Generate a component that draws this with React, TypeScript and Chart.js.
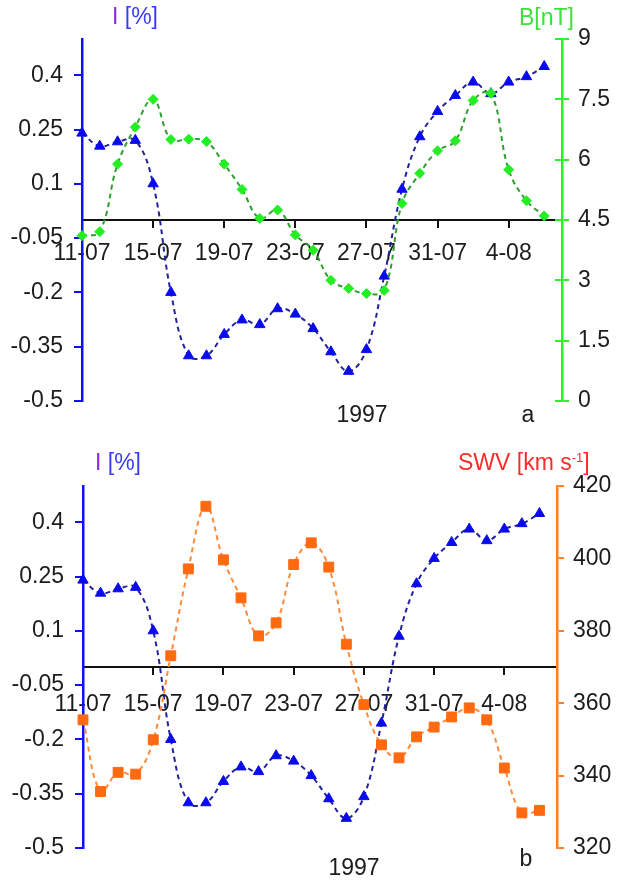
import React, { useEffect, useRef } from "react";
import { Chart, registerables } from "chart.js";

Chart.register(...registerables);

// ---------------- data ----------------
const DAYS = [
  "11-07", "12-07", "13-07", "14-07", "15-07", "16-07", "17-07", "18-07", "19-07",
  "20-07", "21-07", "22-07", "23-07", "24-07", "25-07", "26-07", "27-07", "28-07",
  "29-07", "30-07", "31-07", "1-08", "2-08", "3-08", "4-08", "5-08", "6-08",
];
const X_MAX = 27;
const X_TICKS = [0, 4, 8, 12, 16, 20, 24];
const I_TICKS = [-0.5, -0.35, -0.2, -0.05, 0.1, 0.25, 0.4];
const B_TICKS = [0, 1.5, 3, 4.5, 6, 7.5, 9];
const SWV_TICKS = [320, 340, 360, 380, 400, 420];

const I_PCT = [
  0.24, 0.204, 0.216, 0.22, 0.1, -0.2, -0.375, -0.375, -0.316, -0.276, -0.289,
  -0.245, -0.26, -0.3, -0.364, -0.418, -0.358, -0.155, 0.085, 0.23, 0.3, 0.344,
  0.381, 0.349, 0.381, 0.396, 0.424,
];
const B_NT = [
  4.11, 4.21, 5.89, 6.81, 7.5, 6.5, 6.51, 6.45, 5.89, 5.26, 4.54, 4.75, 4.13,
  3.75, 3.0, 2.8, 2.67, 2.75, 4.91, 5.66, 6.22, 6.47, 7.47, 7.65, 5.75, 4.98, 4.6,
];
const SWV_KMS = [
  355.4, 335.6, 340.9, 340.4, 349.9, 373.1, 397.1, 414.4, 399.6, 389.1, 378.6,
  382.2, 398.3, 404.3, 397.6, 376.3, 359.6, 348.5, 344.9, 350.7, 353.4, 356.2,
  358.7, 355.4, 342.1, 329.7, 330.4,
];

// ---------------- styling ----------------
const FONT = "'Liberation Sans', Arial, Helvetica, sans-serif";
const FONT_SIZE = 23;
const TICK_COLOR = "#1c1c1c";
const BLUE_AXIS = "#1010ff";

type Seg = { text: string; color: string; size?: number; dy?: number };
type Label = { x: number; y: number; align?: "left" | "center"; segs: Seg[] };

function labelsPlugin(labels: Label[]) {
  return {
    id: "staticLabels",
    afterDraw(chart: any) {
      const ctx = chart.ctx as CanvasRenderingContext2D;
      ctx.save();
      ctx.textBaseline = "middle";
      ctx.textAlign = "left";
      for (const l of labels) {
        let total = 0;
        for (const s of l.segs) {
          ctx.font = `${s.size ?? FONT_SIZE}px ${FONT}`;
          total += ctx.measureText(s.text).width;
        }
        let x = l.align === "center" ? l.x - total / 2 : l.x;
        for (const s of l.segs) {
          ctx.font = `${s.size ?? FONT_SIZE}px ${FONT}`;
          ctx.fillStyle = s.color;
          ctx.fillText(s.text, x, l.y + (s.dy ?? 0));
          x += ctx.measureText(s.text).width;
        }
      }
      ctx.restore();
    },
  };
}

function innerTicksPlugin(scaleId: string, len: number, color: string, width: number) {
  return {
    id: "innerTicks",
    afterDraw(chart: any) {
      const s = chart.scales[scaleId];
      const ctx = chart.ctx as CanvasRenderingContext2D;
      ctx.save();
      ctx.strokeStyle = color;
      ctx.lineWidth = width;
      for (const t of s.ticks) {
        const y = Math.round(s.getPixelForValue(t.value));
        ctx.beginPath();
        ctx.moveTo(s.left - len, y);
        ctx.lineTo(s.left, y);
        ctx.stroke();
      }
      ctx.restore();
    },
  };
}

interface PanelSpec {
  height: number;
  padTop: number;
  padBottom: number;
  leftWidth: number;
  rightWidth: number;
  xLabelPad: number;
  rightValues: number[];
  rightMin: number;
  rightMax: number;
  rightTicks: number[];
  rightAxisColor: string;
  rightLineColor: string;
  rightPointColor: string;
  rightPointStyle: string;
  rightRadius: number;
  rightLabelPad: number;
  crossTicks: boolean;
  labels: Label[];
}

function Panel({ spec }: { spec: PanelSpec }) {
  const ref = useRef<HTMLCanvasElement | null>(null);
  useEffect(() => {
    const canvas = ref.current;
    if (!canvas) return;
    const tickFont = { family: FONT, size: FONT_SIZE };
    const plugins: any[] = [labelsPlugin(spec.labels)];
    if (spec.crossTicks) plugins.push(innerTicksPlugin("y2", 7, spec.rightAxisColor, 2));
    const chart = new Chart(canvas, {
      type: "line",
      data: {
        datasets: [
          {
            label: "right",
            data: DAYS.map((_, i) => ({ x: i, y: spec.rightValues[i] })),
            yAxisID: "y2",
            borderColor: spec.rightLineColor,
            borderWidth: 2,
            borderDash: [5, 4],
            tension: 0.4,
            pointStyle: spec.rightPointStyle as any,
            pointRadius: spec.rightRadius,
            pointBackgroundColor: spec.rightPointColor,
            pointBorderColor: spec.rightPointColor,
            pointBorderWidth: 1,
            fill: false,
            clip: false as any,
          },
          {
            label: "I",
            data: DAYS.map((_, i) => ({ x: i, y: I_PCT[i] })),
            yAxisID: "y",
            borderColor: "#22229a",
            borderWidth: 2,
            borderDash: [5, 4],
            tension: 0.4,
            pointStyle: "triangle",
            pointRadius: 6,
            pointBackgroundColor: "#0a0aee",
            pointBorderColor: "#0a0aee",
            pointBorderWidth: 1,
            fill: false,
            clip: false as any,
          },
        ],
      },
      options: {
        responsive: false,
        animation: false,
        events: [],
        layout: { padding: { top: spec.padTop, bottom: spec.padBottom, left: 0, right: 0 } },
        plugins: { legend: { display: false }, tooltip: { enabled: false } },
        scales: {
          x: {
            type: "linear",
            position: { y: 0 } as any,
            min: 0,
            max: X_MAX,
            afterBuildTicks: (s: any) => {
              s.ticks = X_TICKS.map((v) => ({ value: v }));
            },
            afterFit: (s: any) => {
              s.height = 0;
            },
            ticks: {
              callback: (v: any) => DAYS[v as number],
              font: tickFont,
              color: TICK_COLOR,
              padding: spec.xLabelPad,
              maxRotation: 0,
              autoSkip: false,
            },
            grid: { drawOnChartArea: false, drawTicks: true, tickLength: 7, color: "#111", lineWidth: 2 },
            border: { display: true, color: "#111", width: 2 },
          },
          y: {
            type: "linear",
            position: "left",
            min: -0.5,
            max: 0.5,
            afterBuildTicks: (s: any) => {
              s.ticks = I_TICKS.map((v) => ({ value: v }));
            },
            afterFit: (s: any) => {
              s.width = spec.leftWidth;
            },
            ticks: { callback: (v: any) => String(v), font: tickFont, color: TICK_COLOR, padding: 11 },
            grid: { drawOnChartArea: false, drawTicks: true, tickLength: 8, color: BLUE_AXIS, lineWidth: 2 },
            border: { display: true, color: BLUE_AXIS, width: 2.5 },
          },
          y2: {
            type: "linear",
            position: "right",
            min: spec.rightMin,
            max: spec.rightMax,
            afterBuildTicks: (s: any) => {
              s.ticks = spec.rightTicks.map((v) => ({ value: v }));
            },
            afterFit: (s: any) => {
              s.width = spec.rightWidth;
            },
            ticks: { callback: (v: any) => String(v), font: tickFont, color: TICK_COLOR, padding: spec.rightLabelPad },
            grid: { drawOnChartArea: false, drawTicks: true, tickLength: 7, color: spec.rightAxisColor, lineWidth: 2 },
            border: { display: true, color: spec.rightAxisColor, width: 2.5 },
          },
        },
      } as any,
      plugins,
    });
    return () => chart.destroy();
  }, [spec]);
  return <canvas ref={ref} width={620} height={spec.height} style={{ display: "block" }} />;
}

const PANEL_A: PanelSpec = {
  height: 440,
  padTop: 39,
  padBottom: 39,
  leftWidth: 82,
  rightWidth: 58,
  xLabelPad: 13,
  rightValues: B_NT,
  rightMin: 0,
  rightMax: 9,
  rightTicks: B_TICKS,
  rightAxisColor: "#2bf02b",
  rightLineColor: "#2f9f2f",
  rightPointColor: "#22ee22",
  rightPointStyle: "rectRot",
  rightRadius: 5,
  rightLabelPad: 9,
  crossTicks: true,
  labels: [
    { x: 112, y: 18, segs: [{ text: "I", color: "#8a2be2" }, { text: " [%]", color: "#3a3aff" }] },
    { x: 519, y: 19, segs: [{ text: "B[nT]", color: "#3de03d" }] },
    { x: 362, y: 416, align: "center", segs: [{ text: "1997", color: TICK_COLOR }] },
    { x: 528, y: 416, align: "center", segs: [{ text: "a", color: TICK_COLOR }] },
  ],
};

const PANEL_B: PanelSpec = {
  height: 443,
  padTop: 46,
  padBottom: 35,
  leftWidth: 83,
  rightWidth: 63,
  xLabelPad: 17,
  rightValues: SWV_KMS,
  rightMin: 320,
  rightMax: 420,
  rightTicks: SWV_TICKS,
  rightAxisColor: "#ff7f27",
  rightLineColor: "#ff8a3a",
  rightPointColor: "#ff6a10",
  rightPointStyle: "rect",
  rightRadius: 7,
  rightLabelPad: 9,
  crossTicks: false,
  labels: [
    { x: 95, y: 24, segs: [{ text: "I", color: "#8a2be2" }, { text: " [%]", color: "#3a3aff" }] },
    {
      x: 458,
      y: 24,
      segs: [
        { text: "SWV [km s", color: "#ff2b2b" },
        { text: "-1", color: "#ff2b2b", size: 13, dy: -6 },
        { text: "]", color: "#ff2b2b" },
      ],
    },
    { x: 354, y: 429, align: "center", segs: [{ text: "1997", color: TICK_COLOR }] },
    { x: 526, y: 420, align: "center", segs: [{ text: "b", color: TICK_COLOR }] },
  ],
};

export default function App() {
  return (
    <div style={{ position: "absolute", left: 0, top: 0, width: 620, height: 883, background: "#fff" }}>
      <Panel spec={PANEL_A} />
      <Panel spec={PANEL_B} />
    </div>
  );
}
